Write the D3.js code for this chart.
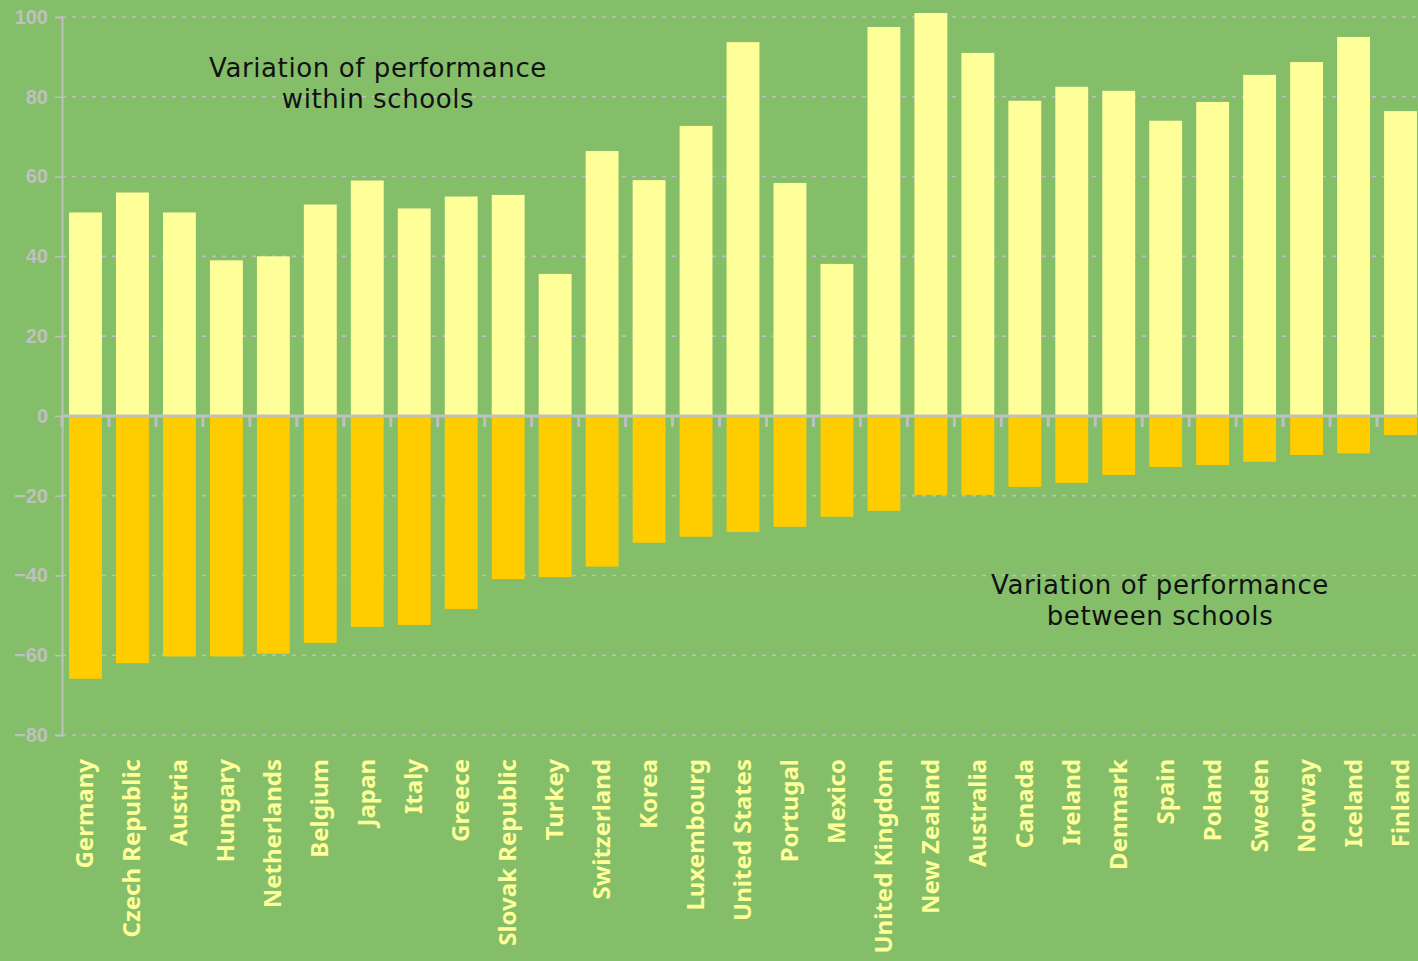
<!DOCTYPE html>
<html>
<head>
<meta charset="utf-8">
<script src="https://cdn.jsdelivr.net/npm/d3@7"></script>
<style>
  html, body { margin: 0; padding: 0; background: #84be69; overflow: hidden; }
  .cat { font-family: "Comic Sans MS", "Noto Sans", sans-serif; font-weight: bold; font-size: 24px; fill: #ffff99; }
  .note { font-family: "Comic Sans MS", "DejaVu Sans", sans-serif; font-size: 26px; fill: #111; letter-spacing: 0.6px; }
</style>
</head>
<body>
<div id="chart"></div>
<script>
var countries = ['Germany', 'Czech Republic', 'Austria', 'Hungary', 'Netherlands', 'Belgium', 'Japan', 'Italy',
  'Greece', 'Slovak Republic', 'Turkey', 'Switzerland', 'Korea', 'Luxembourg', 'United States', 'Portugal',
  'Mexico', 'United Kingdom', 'New Zealand', 'Australia', 'Canada', 'Ireland', 'Denmark', 'Spain', 'Poland',
  'Sweden', 'Norway', 'Iceland', 'Finland'];

// variation within schools (positive part)
var withinSchools = [51, 56, 51, 39, 40, 53, 59, 52, 55, 55.4, 35.6, 66.4, 59.1, 72.7, 93.7, 58.4,
  38.1, 97.5, 101, 91, 79, 82.5, 81.5, 74, 78.7, 85.5, 88.7, 95, 76.4];

// variation between schools (negative part)
var betweenSchools = [-65.9, -62, -60.3, -60.3, -59.6, -56.9, -52.9, -52.4, -48.4, -40.9, -40.4, -37.8,
  -31.8, -30.3, -29.1, -27.8, -25.3, -23.8, -19.8, -19.8, -17.8, -16.8, -14.8, -12.8, -12.3, -11.5,
  -9.8, -9.4, -4.8];

var yTicks = [-80, -60, -40, -20, 0, 20, 40, 60, 80, 100];

var W = 1418, H = 961;
var margin = {top: 17, left: 62};

var svg = d3.select('#chart').append('svg')
    .attr('width', W)
    .attr('height', H);

svg.append('rect').attr('width', W).attr('height', H).attr('fill', '#84be69');

// x band scale - last band runs off the right edge like the original
var x = d3.scaleBand()
    .domain(countries)
    .range([margin.left, 1424])
    .paddingInner(0.3)
    .paddingOuter(0.15);

var y = d3.scaleLinear()
    .domain([-80, 100])
    .range([735, 17]);

// gridlines
svg.append('g')
  .selectAll('line')
  .data(yTicks.filter(function(d) { return d !== 0; }))
  .enter().append('line')
    .attr('x1', margin.left)
    .attr('x2', W)
    .attr('y1', function(d) { return y(d); })
    .attr('y2', function(d) { return y(d); })
    .attr('stroke', '#c0c0c0')
    .attr('stroke-width', 1.6)
    .attr('stroke-dasharray', '4,6');

// bars within schools
svg.append('g')
  .selectAll('rect')
  .data(withinSchools)
  .enter().append('rect')
    .attr('x', function(d, i) { return x(countries[i]); })
    .attr('width', x.bandwidth())
    .attr('y', function(d) { return y(d); })
    .attr('height', function(d) { return y(0) - y(d); })
    .attr('fill', '#ffff99');

// bars between schools
svg.append('g')
  .selectAll('rect')
  .data(betweenSchools)
  .enter().append('rect')
    .attr('x', function(d, i) { return x(countries[i]); })
    .attr('width', x.bandwidth())
    .attr('y', y(0))
    .attr('height', function(d) { return y(d) - y(0); })
    .attr('fill', '#ffcc00');

// y axis
var yAxis = svg.append('g')
    .attr('transform', 'translate(' + margin.left + ',0)')
    .call(d3.axisLeft(y).tickValues(yTicks).tickSize(7).tickPadding(7));
yAxis.select('.domain').attr('stroke', '#c0c0c0').attr('stroke-width', 2);
yAxis.selectAll('.tick line').attr('stroke', '#c0c0c0').attr('stroke-width', 1.5);
yAxis.selectAll('.tick text')
    .attr('fill', '#c0c0c0')
    .style('font-family', '"Liberation Sans", Arial, sans-serif')
    .style('font-weight', 'bold')
    .style('font-size', '20px');

// zero line with ticks between categories
var bounds = countries.map(function(c) { return x(c) - x.step() * 0.15; });
svg.append('line')
    .attr('x1', margin.left)
    .attr('x2', W)
    .attr('y1', y(0))
    .attr('y2', y(0))
    .attr('stroke', '#c0c0c0')
    .attr('stroke-width', 3);
svg.append('g')
  .selectAll('line')
  .data(bounds)
  .enter().append('line')
    .attr('x1', function(d) { return d; })
    .attr('x2', function(d) { return d; })
    .attr('y1', y(0))
    .attr('y2', y(0) + 11)
    .attr('stroke', '#c0c0c0')
    .attr('stroke-width', 3);

// category labels
svg.append('g')
  .selectAll('text')
  .data(countries)
  .enter().append('text')
    .attr('class', 'cat')
    .attr('transform', function(d) {
      return 'translate(' + (x(d) + x.bandwidth() / 2 + 8) + ',759) rotate(-90)';
    })
    .attr('text-anchor', 'end')
    .text(function(d) { return d; });

// annotations
var notes = [
  {x: 378, y: 77, lines: ['Variation of performance', 'within schools']},
  {x: 1160, y: 594, lines: ['Variation of performance', 'between schools']}
];
notes.forEach(function(n) {
  n.lines.forEach(function(l, i) {
    svg.append('text')
        .attr('class', 'note')
        .attr('text-anchor', 'middle')
        .attr('x', n.x)
        .attr('y', n.y + i * 31)
        .text(l);
  });
});
</script>
</body>
</html>
